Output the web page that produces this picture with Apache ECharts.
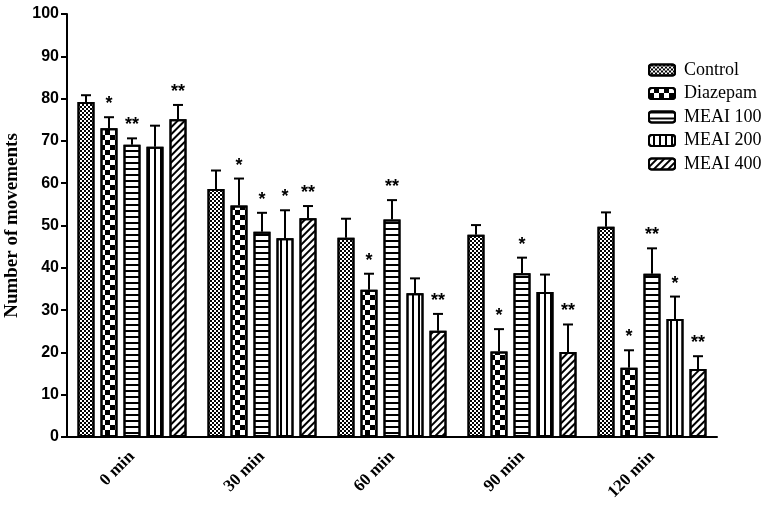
<!DOCTYPE html>
<html>
<head>
<meta charset="utf-8">
<script src="https://cdn.jsdelivr.net/npm/echarts@6/dist/echarts.min.js"></script>
<style>
    html, body { margin: 0; padding: 0; background: #fff; }
    #chart { width: 774px; height: 511px; }
</style>
</head>
<body>
<div id="chart"></div>
<script>
var categories = ['0 min', '30 min', '60 min', '90 min', '120 min'];
var groups = ['Control', 'Diazepam', 'MEAI 100', 'MEAI 200', 'MEAI 400'];

// mean values
var control  = [79.2, 58.6, 47.1, 47.8, 49.7];
var diazepam = [73.0, 54.7, 34.8, 20.2, 16.4];
var meai100  = [69.1, 48.5, 51.4, 38.7, 38.6];
var meai200  = [68.6, 47.0, 34.0, 34.3, 27.9];
var meai400  = [75.1, 51.7, 25.1, 20.1, 16.1];

// top of the error bar
var controlErr  = [80.8, 63.0, 51.6, 50.1, 53.1];
var diazepamErr = [75.6, 61.1, 38.6, 25.5, 20.5];
var meai100Err  = [70.6, 53.0, 56.0, 42.4, 44.6];
var meai200Err  = [73.6, 53.6, 37.5, 38.4, 33.2];
var meai400Err  = [78.5, 54.6, 29.1, 26.6, 19.1];

// significance marks
var controlSig  = ['', '', '', '', ''];
var diazepamSig = ['*', '*', '*', '*', '*'];
var meai100Sig  = ['**', '*', '**', '*', '**'];
var meai200Sig  = ['', '*', '', '', '*'];
var meai400Sig  = ['**', '**', '**', '**', '**'];

var values = [control, diazepam, meai100, meai200, meai400];
var errors = [controlErr, diazepamErr, meai100Err, meai200Err, meai400Err];
var marks = [controlSig, diazepamSig, meai100Sig, meai200Sig, meai400Sig];

var BAR_W = 17;
var BAR_STEP = 23;

var decals = [
    { symbol: 'rect', symbolSize: 1, color: '#000', dashArrayX: [[2, 2], [0, 2, 2, 0]], dashArrayY: [2, 0] },
    { symbol: 'rect', symbolSize: 1, color: '#000', dashArrayX: [[5, 5], [0, 5, 5, 0]], dashArrayY: [5, 0] },
    { symbol: 'rect', symbolSize: 1, color: '#000', dashArrayX: [1, 0], dashArrayY: [1.5, 3.5] },
    { symbol: 'rect', symbolSize: 1, color: '#000', dashArrayX: [1, 0], dashArrayY: [2, 4], rotation: Math.PI / 2 },
    { symbol: 'rect', symbolSize: 1, color: '#000', dashArrayX: [1, 0], dashArrayY: [1.5, 3], rotation: -Math.PI / 4 }
];

var series = [];
groups.forEach(function (name, gi) {
    series.push({
        name: name,
        type: 'bar',
        barWidth: BAR_W,
        barGap: (BAR_STEP / BAR_W - 1) * 100 + '%',
        data: values[gi],
        itemStyle: { color: '#fff', borderColor: '#000', borderWidth: 2, decal: decals[gi] },
        emphasis: { disabled: true }
    });
});

groups.forEach(function (name, gi) {
    series.push({
        type: 'custom',
        data: categories.map(function (c, ci) {
            return [ci, values[gi][ci], errors[gi][ci]];
        }),
        z: 1,
        renderItem: function (params, api) {
            var ci = api.value(0);
            var base = api.coord([ci, api.value(1)]);
            var top = api.coord([ci, api.value(2)]);
            var x = base[0] + (gi - 2) * BAR_STEP;
            var mark = marks[gi][ci];
            var children = [
                { type: 'line', shape: { x1: x, y1: base[1], x2: x, y2: top[1] }, style: { stroke: '#000', lineWidth: 2 } },
                { type: 'line', shape: { x1: x - 5, y1: top[1], x2: x + 5, y2: top[1] }, style: { stroke: '#000', lineWidth: 2 } }
            ];
            if (mark) {
                children.push({
                    type: 'text',
                    style: {
                        text: mark, x: x, y: top[1] - 4,
                        textAlign: 'center', textVerticalAlign: 'bottom',
                        font: 'bold 18px "Liberation Sans", Arial, sans-serif', fill: '#000'
                    }
                });
            }
            return { type: 'group', children: children };
        }
    });
});

var chart = echarts.init(document.getElementById('chart'));
chart.setOption({
    animation: false,
    backgroundColor: '#fff',
    grid: { left: 67, top: 14, right: 57, bottom: 74, outerBoundsMode: 'none' },
    legend: {
        data: groups,
        orient: 'vertical',
        left: 643,
        top: 56,
        itemWidth: 26,
        itemHeight: 11,
        itemGap: 5.5,
        textStyle: { fontFamily: '"Liberation Serif", "Times New Roman", serif', fontSize: 18, color: '#000', padding: [0, 0, 0, 4] }
    },
    xAxis: {
        type: 'category',
        data: categories,
        axisLine: { lineStyle: { color: '#000', width: 2 } },
        axisTick: { alignWithLabel: true, length: 7, lineStyle: { color: '#000', width: 2 } },
        axisLabel: {
            rotate: 45, margin: 17, color: '#000',
            fontFamily: '"Liberation Serif", "Times New Roman", serif', fontWeight: 'bold', fontSize: 17
        }
    },
    yAxis: {
        type: 'value',
        min: 0, max: 100, interval: 10,
        name: 'Number of movements',
        nameLocation: 'middle',
        nameGap: 36,
        nameTextStyle: { fontFamily: '"Liberation Serif", "Times New Roman", serif', fontWeight: 'bold', fontSize: 19, color: '#000' },
        splitLine: { show: false },
        axisLine: { show: true, lineStyle: { color: '#000', width: 2 } },
        axisTick: { show: true, length: 6, lineStyle: { color: '#000', width: 2 } },
        axisLabel: { color: '#000', fontFamily: '"Liberation Sans", Arial, sans-serif', fontWeight: 'bold', fontSize: 16, margin: 8 }
    },
    series: series
});
</script>
</body>
</html>
